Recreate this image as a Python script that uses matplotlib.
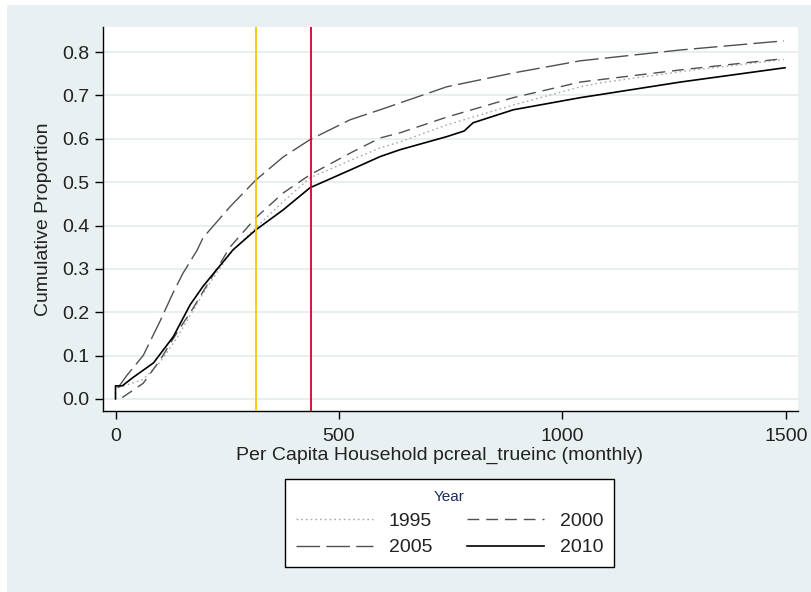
import matplotlib
matplotlib.use("Agg")
import matplotlib.pyplot as plt
from matplotlib.patches import Rectangle

plt.rcParams['font.family'] = ['Liberation Sans', 'DejaVu Sans']

# cumulative distribution of per capita household income, by survey year
x_1995 = [0, 0, 20, 62, 100, 137, 174, 200, 256, 314, 375, 435, 525, 592, 637, 741, 890, 1040, 1084, 1264, 1495]
y_1995 = [0.0, 0.025, 0.03, 0.045, 0.085, 0.14, 0.205, 0.25, 0.335, 0.395, 0.455, 0.51, 0.55, 0.579, 0.593,
          0.632, 0.678, 0.72, 0.729, 0.755, 0.783]

x_2000 = [15, 25, 62, 100, 137, 174, 256, 314, 375, 435, 525, 592, 637, 741, 890, 1040, 1264, 1495]
y_2000 = [0.003, 0.01, 0.036, 0.09, 0.152, 0.21, 0.35, 0.418, 0.475, 0.517, 0.567, 0.602, 0.614, 0.65, 0.695,
          0.731, 0.759, 0.785]

x_2005 = [5, 26, 62, 100, 128, 151, 182, 196, 256, 314, 375, 435, 525, 592, 741, 890, 1040, 1264, 1495]
y_2005 = [0.025, 0.055, 0.1, 0.18, 0.243, 0.29, 0.342, 0.372, 0.443, 0.505, 0.558, 0.598, 0.644, 0.667, 0.72,
          0.752, 0.78, 0.805, 0.826]

x_2010 = [0, 0, 15, 40, 85, 129, 167, 196, 263, 314, 375, 435, 525, 592, 637, 741, 780, 800, 890, 1040, 1084,
          1264, 1498]
y_2010 = [0.0, 0.03, 0.03, 0.05, 0.083, 0.143, 0.217, 0.26, 0.344, 0.39, 0.436, 0.487, 0.528, 0.559, 0.575,
          0.605, 0.618, 0.637, 0.667, 0.695, 0.702, 0.731, 0.764]

# reference lines
line_low = 314
line_high = 437

bg = '#e9f0f2'

fig = plt.figure(figsize=(8.12, 5.92), dpi=100)
fig.patch.set_facecolor('white')
fig.patches.append(Rectangle((7 / 812, 0), 1, 587 / 592, transform=fig.transFigure,
                             facecolor=bg, edgecolor='none', zorder=-10))

ax = fig.add_axes([103 / 812, 1 - 411 / 592, 695 / 812, 384 / 592])
ax.set_facecolor('white')

l95, = ax.plot(x_1995, y_1995, color='#a8a8a8', lw=1.0, dashes=(1.2, 2.2), label='1995')
l00, = ax.plot(x_2000, y_2000, color='#505050', lw=1.0, dashes=(8.5, 5), label='2000')
l05, = ax.plot(x_2005, y_2005, color='#505050', lw=1.0, dashes=(17, 4.5), label='2005')
l10, = ax.plot(x_2010, y_2010, color='black', lw=1.2, label='2010')

ax.axvline(line_low, color='#f5c800', lw=1.3, zorder=3)
ax.axvline(line_high, color='#d8002c', lw=1.3, zorder=3)

ax.set_xlim(-28, 1527)
ax.set_ylim(-0.028, 0.858)
ax.set_xticks([0, 500, 1000, 1500])
ax.set_yticks([0, 0.1, 0.2, 0.3, 0.4, 0.5, 0.6, 0.7, 0.8])
ax.set_yticklabels(['0.0', '0.1', '0.2', '0.3', '0.4', '0.5', '0.6', '0.7', '0.8'])
ax.grid(axis='y', color='#e4ecee', lw=1.2)
ax.set_axisbelow(True)

for s in ['top', 'right']:
    ax.spines[s].set_visible(False)
for s in ['left', 'bottom']:
    ax.spines[s].set_color('black')
    ax.spines[s].set_linewidth(1.0)

ax.tick_params(axis='both', labelsize=14, length=6, width=1, color='black', labelcolor='#222222')
ax.tick_params(axis='x', pad=6)
ax.tick_params(axis='y', pad=4)

ax.set_xlabel('Per Capita Household pcreal_trueinc (monthly)', fontsize=14, color='#222222')
ax.xaxis.set_label_coords(0.4835, -0.092)
ax.set_ylabel('Cumulative Proportion', fontsize=14, color='#222222', labelpad=7)

# legend is filled column by column, so order handles to read row-wise
leg = fig.legend([l95, l05, l00, l10], ['1995', '2005', '2000', '2010'],
                 loc='upper center', bbox_to_anchor=(449.5 / 812, 1 - 479 / 592), ncol=2,
                 title='Year', title_fontsize=11, fontsize=14, frameon=True, fancybox=False,
                 edgecolor='black', facecolor='white', framealpha=1, borderaxespad=0,
                 handlelength=4.0, handletextpad=0.8, columnspacing=1.75, labelspacing=0.45,
                 borderpad=0.55)
leg.get_frame().set_linewidth(1.0)
leg.get_title().set_color('#1c2d5c')
for t in leg.get_texts():
    t.set_color('#222222')

fig.savefig('out.png', dpi=100, facecolor=fig.get_facecolor())
